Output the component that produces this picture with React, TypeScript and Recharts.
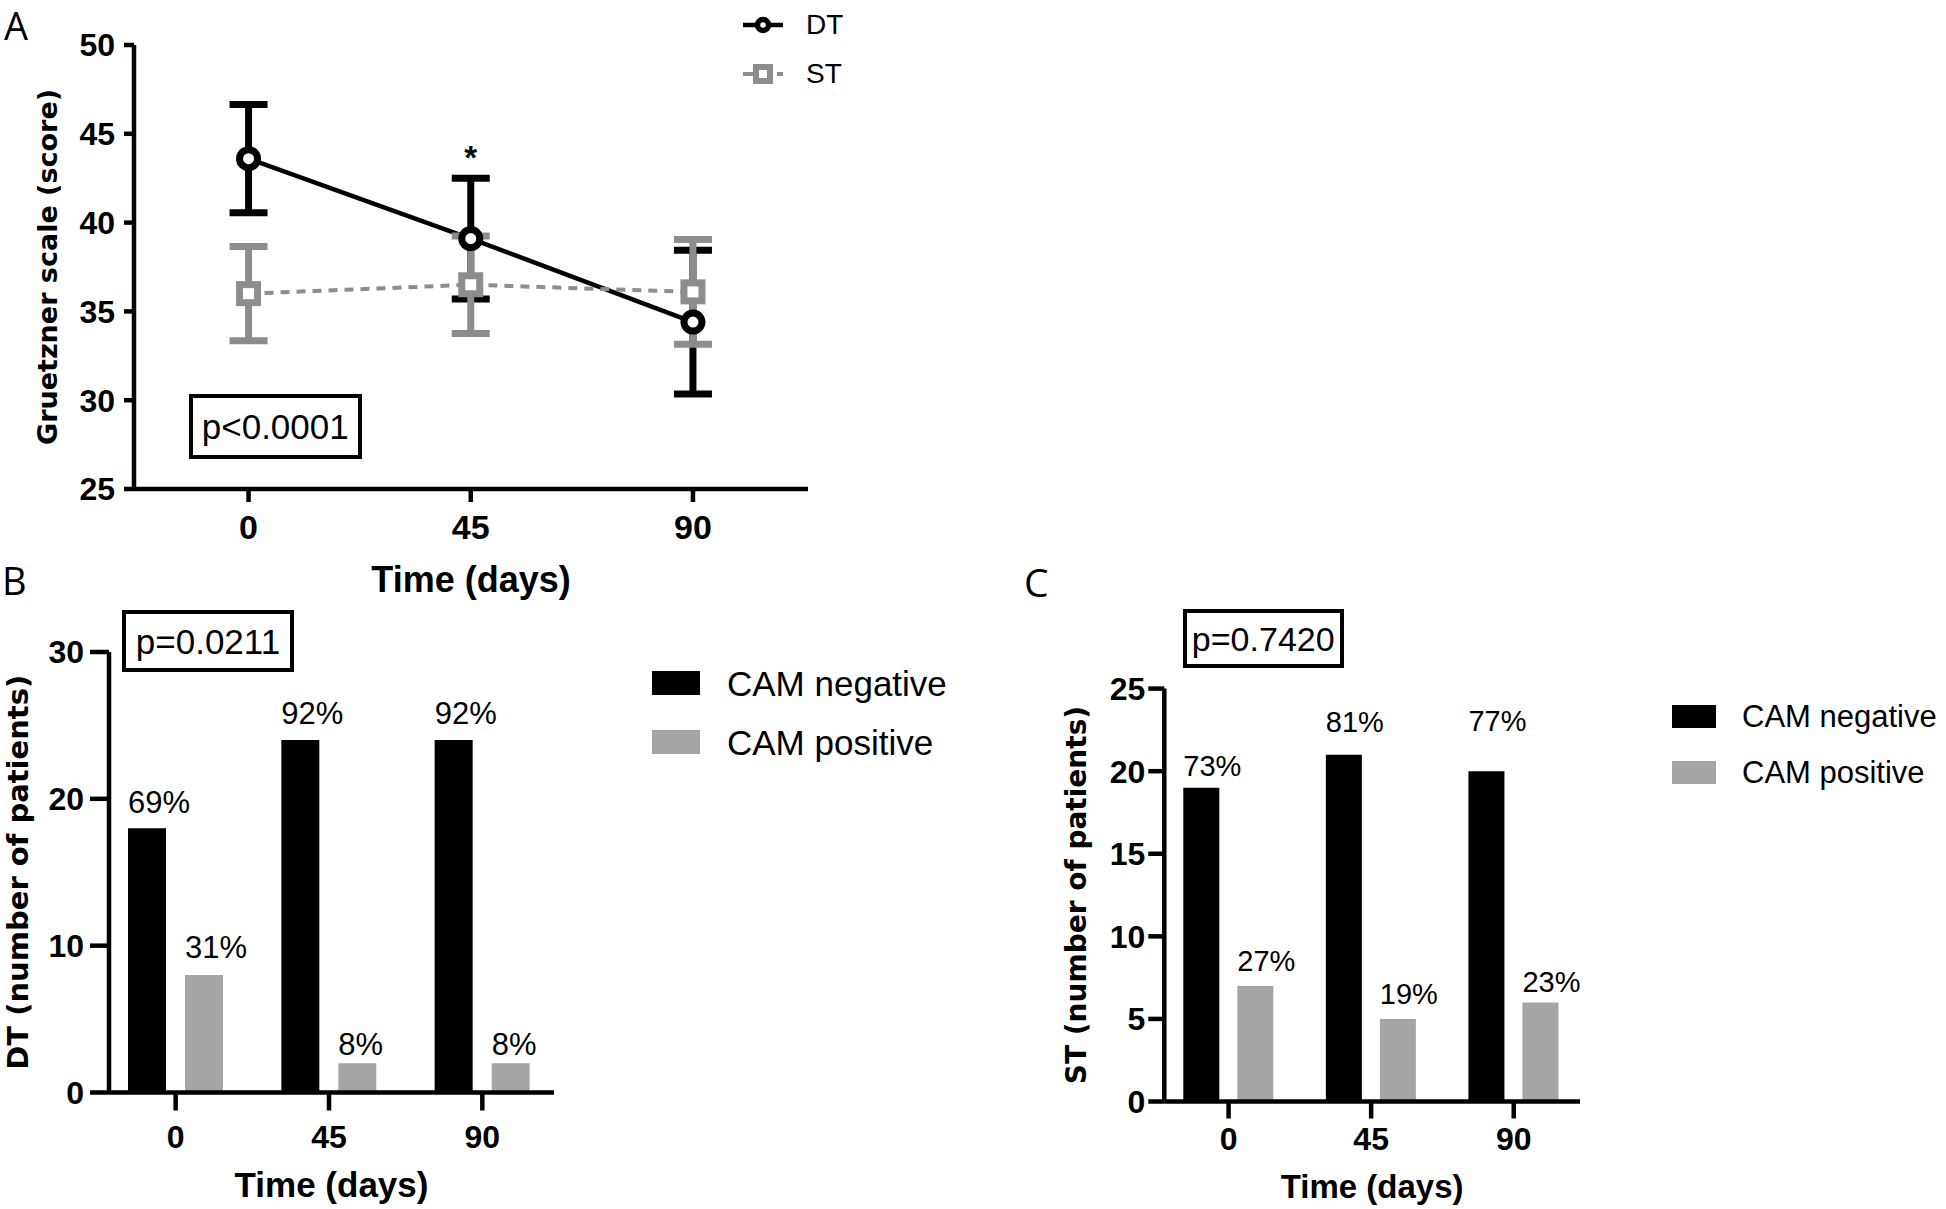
import React from 'react';
import {
  Bar,
  BarChart,
  ErrorBar,
  LabelList,
  Legend,
  Line,
  LineChart,
  XAxis,
  YAxis,
} from 'recharts';

// Panel A: Gruetzner scale, mean with error bars
const days = [0, 45, 90];
const dtMean = [43.6, 39.1, 34.4];
const dtErr = [3.05, 3.4, 4.05];
const stMean = [36.0, 36.5, 36.1];
const stErr = [2.65, 2.75, 2.95];
const dtSig = ['', '*', ''];
const scoreTicks = [25, 30, 35, 40, 45, 50];

// Panels B and C: CAM counts per time point
const dayLabels = ['0', '45', '90'];
const dtNeg = [18, 24, 24];
const dtPos = [8, 2, 2];
const dtNegPct = ['69%', '92%', '92%'];
const dtPosPct = ['31%', '8%', '8%'];
const stNeg = [19, 21, 20];
const stPos = [7, 5, 6];
const stNegPct = ['73%', '81%', '77%'];
const stPosPct = ['27%', '19%', '23%'];
const dtCountTicks = [0, 10, 20, 30];
const stCountTicks = [0, 5, 10, 15, 20, 25];

// how far each percentage sits above its bar (px)
const dtNegLift = [15, 16, 16];
const dtPosLift = [17, 8, 8];
const stNegLift = [12, 23, 40];
const stPosLift = [15, 15, 10];

const FONT = "'Liberation Sans', Arial, sans-serif";
const TITLE_FONT = "'DejaVu Sans', Verdana, sans-serif";
const GREY_LINE = '#8d8d8d';
const GREY_BAR = '#a5a5a5';

const scoreRows = days.map((day, i) => ({
  day,
  dt: dtMean[i],
  dtErr: dtErr[i],
  st: stMean[i],
  stErr: stErr[i],
  sig: dtSig[i],
}));

const dtRows = dayLabels.map((day, i) => ({
  day,
  neg: dtNeg[i],
  pos: dtPos[i],
  negPct: dtNegPct[i],
  posPct: dtPosPct[i],
}));

const stRows = dayLabels.map((day, i) => ({
  day,
  neg: stNeg[i],
  pos: stPos[i],
  negPct: stNegPct[i],
  posPct: stPosPct[i],
}));

const axisStroke = { stroke: '#000', strokeWidth: 4.5 };
const tickFont = (size: number) => ({
  fill: '#000',
  fontSize: size,
  fontWeight: 700,
  fontFamily: FONT,
});

function SquareDot(props: any) {
  const { cx, cy, index } = props;
  if (cx == null || cy == null) return null;
  return (
    <rect
      key={`sq-${index}`}
      x={cx - 9}
      y={cy - 9}
      width={18}
      height={18}
      fill="#fff"
      stroke={GREY_LINE}
      strokeWidth={7}
    />
  );
}

const renderSig = (props: any) => {
  const { x, y, value } = props;
  if (!value) return null;
  return (
    <text
      x={Number(x)}
      y={Number(y) - 70}
      textAnchor="middle"
      fontSize={33}
      fontWeight={700}
      fontFamily={FONT}
      fill="#000"
    >
      {value}
    </text>
  );
};

const pctLabel = (lift: number[], fontSize: number) => (props: any) => {
  const { x, y, value, index } = props;
  return (
    <text
      x={Number(x)}
      y={Number(y) - (lift[index] ?? 14)}
      textAnchor="start"
      fontSize={fontSize}
      fontFamily={FONT}
      fill="#000"
    >
      {value}
    </text>
  );
};

function LineLegend({ payload }: any) {
  return (
    <div style={{ fontFamily: FONT }}>
      {(payload ?? []).map((entry: any) => (
        <div
          key={entry.value}
          style={{ display: 'flex', alignItems: 'center', height: 49 }}
        >
          <svg width={46} height={30} style={{ marginRight: 20 }}>
            {entry.value === 'DT' ? (
              <>
                <line x1={3} x2={43} y1={15} y2={15} stroke="#000" strokeWidth={4.5} />
                <circle cx={23} cy={15} r={5.5} fill="#fff" stroke="#000" strokeWidth={5.5} />
              </>
            ) : (
              <>
                <line x1={3} x2={13} y1={15} y2={15} stroke={GREY_LINE} strokeWidth={4} />
                <rect x={16} y={8} width={14} height={14} fill="#fff" stroke={GREY_LINE} strokeWidth={6} />
                <line x1={37} x2={43} y1={15} y2={15} stroke={GREY_LINE} strokeWidth={4} />
              </>
            )}
          </svg>
          <span style={{ fontSize: 28, lineHeight: 1, color: '#000' }}>
            {entry.value}
          </span>
        </div>
      ))}
    </div>
  );
}

function BarLegend({ payload, box, gap, rowHeight, fontSize }: any) {
  return (
    <div style={{ fontFamily: FONT }}>
      {(payload ?? []).map((entry: any) => (
        <div
          key={entry.value}
          style={{ display: 'flex', alignItems: 'center', height: rowHeight }}
        >
          <span
            style={{
              display: 'inline-block',
              width: box[0],
              height: box[1],
              background: entry.color,
              marginRight: gap,
            }}
          />
          <span
            style={{
              fontSize,
              lineHeight: 1,
              color: '#000',
              whiteSpace: 'nowrap',
            }}
          >
            {entry.value}
          </span>
        </div>
      ))}
    </div>
  );
}

function PBox({ text, left, top, width, height, fontSize }: any) {
  return (
    <div
      style={{
        position: 'absolute',
        left,
        top,
        width,
        height,
        boxSizing: 'border-box',
        border: '4.5px solid #000',
        display: 'flex',
        alignItems: 'center',
        justifyContent: 'center',
        fontFamily: FONT,
        fontSize,
        lineHeight: 1,
        background: '#fff',
      }}
    >
      {text}
    </div>
  );
}

function PanelLetter({ text, left, top, size }: any) {
  return (
    <div
      style={{
        position: 'absolute',
        left,
        top,
        fontFamily: "'Open Sans', 'Noto Sans', sans-serif",
        fontSize: size,
        lineHeight: 1,
        color: '#000',
      }}
    >
      {text}
    </div>
  );
}

function ScoreChart() {
  return (
    <LineChart
      width={860}
      height={620}
      data={scoreRows}
      margin={{ top: 45, right: 52, bottom: 0, left: 0 }}
    >
      <XAxis
        dataKey="day"
        type="number"
        domain={[-23.2, 113.3]}
        ticks={days}
        height={131}
        tickSize={13}
        tickMargin={13}
        axisLine={axisStroke}
        tickLine={axisStroke}
        tick={tickFont(34)}
        label={{
          value: 'Time (days)',
          position: 'insideBottom',
          offset: 28,
          fill: '#000',
          fontSize: 36,
          fontWeight: 700,
          fontFamily: FONT,
        }}
      />
      <YAxis
        type="number"
        domain={[25, 50]}
        ticks={scoreTicks}
        width={134}
        tickSize={10}
        tickMargin={9}
        axisLine={axisStroke}
        tickLine={axisStroke}
        tick={tickFont(32)}
        label={{
          value: 'Gruetzner scale (score)',
          angle: -90,
          position: 'insideLeft',
          offset: 47,
          fill: '#000',
          fontSize: 27,
          fontWeight: 700,
          fontFamily: TITLE_FONT,
          style: { textAnchor: 'middle' },
        }}
      />
      <Legend
        layout="horizontal"
        verticalAlign="middle"
        align="center"
        content={<LineLegend />}
        wrapperStyle={{ top: 0, left: 740, width: 120 }}
      />
      <Line
        type="linear"
        dataKey="dt"
        name="DT"
        stroke="#000"
        strokeWidth={4.5}
        dot={{ r: 9, fill: '#fff', stroke: '#000', strokeWidth: 7 }}
        activeDot={false}
        isAnimationActive={false}
      >
        <ErrorBar
          dataKey="dtErr"
          direction="y"
          width={19}
          stroke="#000"
          strokeWidth={7}
          isAnimationActive={false}
        />
        <LabelList dataKey="sig" content={renderSig} />
      </Line>
      <Line
        type="linear"
        dataKey="st"
        name="ST"
        stroke={GREY_LINE}
        strokeWidth={4}
        strokeDasharray="9 7"
        dot={<SquareDot />}
        activeDot={false}
        isAnimationActive={false}
      >
        <ErrorBar
          dataKey="stErr"
          direction="y"
          width={19}
          stroke={GREY_LINE}
          strokeWidth={7}
          isAnimationActive={false}
        />
      </Line>
    </LineChart>
  );
}

function CountChart({
  rows,
  ticks,
  yTitle,
  negLift,
  posLift,
  geo,
}: {
  rows: typeof dtRows;
  ticks: number[];
  yTitle: string;
  negLift: number[];
  posLift: number[];
  geo: any;
}) {
  return (
    <BarChart
      width={geo.width}
      height={649}
      data={rows}
      barGap={geo.barGap}
      margin={{ top: geo.top, right: geo.right, bottom: 0, left: 0 }}
    >
      <XAxis
        dataKey="day"
        padding={geo.padding}
        height={geo.xHeight}
        tickSize={geo.xTick}
        tickMargin={geo.xTickMargin}
        axisLine={axisStroke}
        tickLine={axisStroke}
        tick={tickFont(32)}
        label={{
          value: 'Time (days)',
          position: 'insideBottom',
          offset: geo.xTitleOffset,
          fill: '#000',
          fontSize: geo.xTitleSize,
          fontWeight: 700,
          fontFamily: FONT,
        }}
      />
      <YAxis
        type="number"
        domain={[0, ticks[ticks.length - 1]]}
        ticks={ticks}
        width={geo.yWidth}
        tickSize={geo.yTick}
        tickMargin={geo.yTickMargin}
        axisLine={axisStroke}
        tickLine={axisStroke}
        tick={tickFont(32)}
        label={{
          value: yTitle,
          angle: -90,
          position: 'insideLeft',
          offset: geo.yTitleOffset,
          fill: '#000',
          fontSize: geo.yTitleSize,
          fontWeight: 700,
          fontFamily: TITLE_FONT,
          style: { textAnchor: 'middle' },
        }}
      />
      <Legend
        layout="horizontal"
        verticalAlign="middle"
        align="center"
        content={
          <BarLegend
            box={geo.legendBox}
            gap={geo.legendGap}
            rowHeight={geo.legendRow}
            fontSize={geo.legendFont}
          />
        }
        wrapperStyle={{ top: geo.legendTop, left: geo.legendLeft, width: 320 }}
      />
      <Bar
        dataKey="neg"
        name="CAM negative"
        fill="#000"
        barSize={geo.barSize}
        isAnimationActive={false}
      >
        <LabelList dataKey="negPct" content={pctLabel(negLift, geo.pctFont)} />
      </Bar>
      <Bar
        dataKey="pos"
        name="CAM positive"
        fill={GREY_BAR}
        barSize={geo.barSize}
        isAnimationActive={false}
      >
        <LabelList dataKey="posPct" content={pctLabel(posLift, geo.pctFont)} />
      </Bar>
    </BarChart>
  );
}

const geoB = {
  width: 1000,
  top: 92,
  right: 446,
  padding: { left: -10, right: -5 },
  xHeight: 116.5,
  xTick: 18,
  xTickMargin: 15,
  xTitleOffset: 12,
  xTitleSize: 35,
  yWidth: 109,
  yTick: 19,
  yTickMargin: 6,
  yTitleOffset: 18,
  yTitleSize: 29,
  barSize: 38,
  barGap: 19,
  pctFont: 31,
  legendTop: 93.5,
  legendLeft: 652,
  legendBox: [48, 24],
  legendGap: 27,
  legendRow: 59,
  legendFont: 35,
};

const geoC = {
  width: 946,
  top: 128.6,
  right: 366,
  padding: { left: -7, right: -5 },
  xHeight: 107.5,
  xTick: 17,
  xTickMargin: 8.5,
  xTitleOffset: 11,
  xTitleSize: 33,
  yWidth: 164.3,
  yTick: 16,
  yTickMargin: 3,
  yTitleOffset: 76,
  yTitleSize: 28,
  barSize: 36,
  barGap: 18,
  pctFont: 29,
  legendTop: 128.75,
  legendLeft: 672,
  legendBox: [44, 23],
  legendGap: 26,
  legendRow: 55.5,
  legendFont: 31,
};

export default function App() {
  return (
    <div
      style={{
        position: 'absolute',
        left: 0,
        top: 0,
        width: 1946,
        height: 1209,
        background: '#fff',
        overflow: 'hidden',
        fontFamily: FONT,
      }}
    >
      <div style={{ position: 'absolute', left: 0, top: 0 }}>
        <ScoreChart />
      </div>
      <div style={{ position: 'absolute', left: 0, top: 560 }}>
        <CountChart
          rows={dtRows}
          ticks={dtCountTicks}
          yTitle="DT (number of patients)"
          negLift={dtNegLift}
          posLift={dtPosLift}
          geo={geoB}
        />
      </div>
      <div style={{ position: 'absolute', left: 1000, top: 560 }}>
        <CountChart
          rows={stRows}
          ticks={stCountTicks}
          yTitle="ST (number of patients)"
          negLift={stNegLift}
          posLift={stPosLift}
          geo={geoC}
        />
      </div>

      <PBox text="p<0.0001" left={188.5} top={394} width={173.5} height={64.5} fontSize={35} />
      <PBox text="p=0.0211" left={122} top={610} width={172} height={62} fontSize={35} />
      <PBox text="p=0.7420" left={1182.5} top={609} width={161.5} height={59} fontSize={34} />

      <PanelLetter text="A" left={4} top={6} size={38} />
      <PanelLetter text="B" left={2} top={561} size={38} />
      <PanelLetter text="C" left={1024} top={562} size={39} />
    </div>
  );
}
